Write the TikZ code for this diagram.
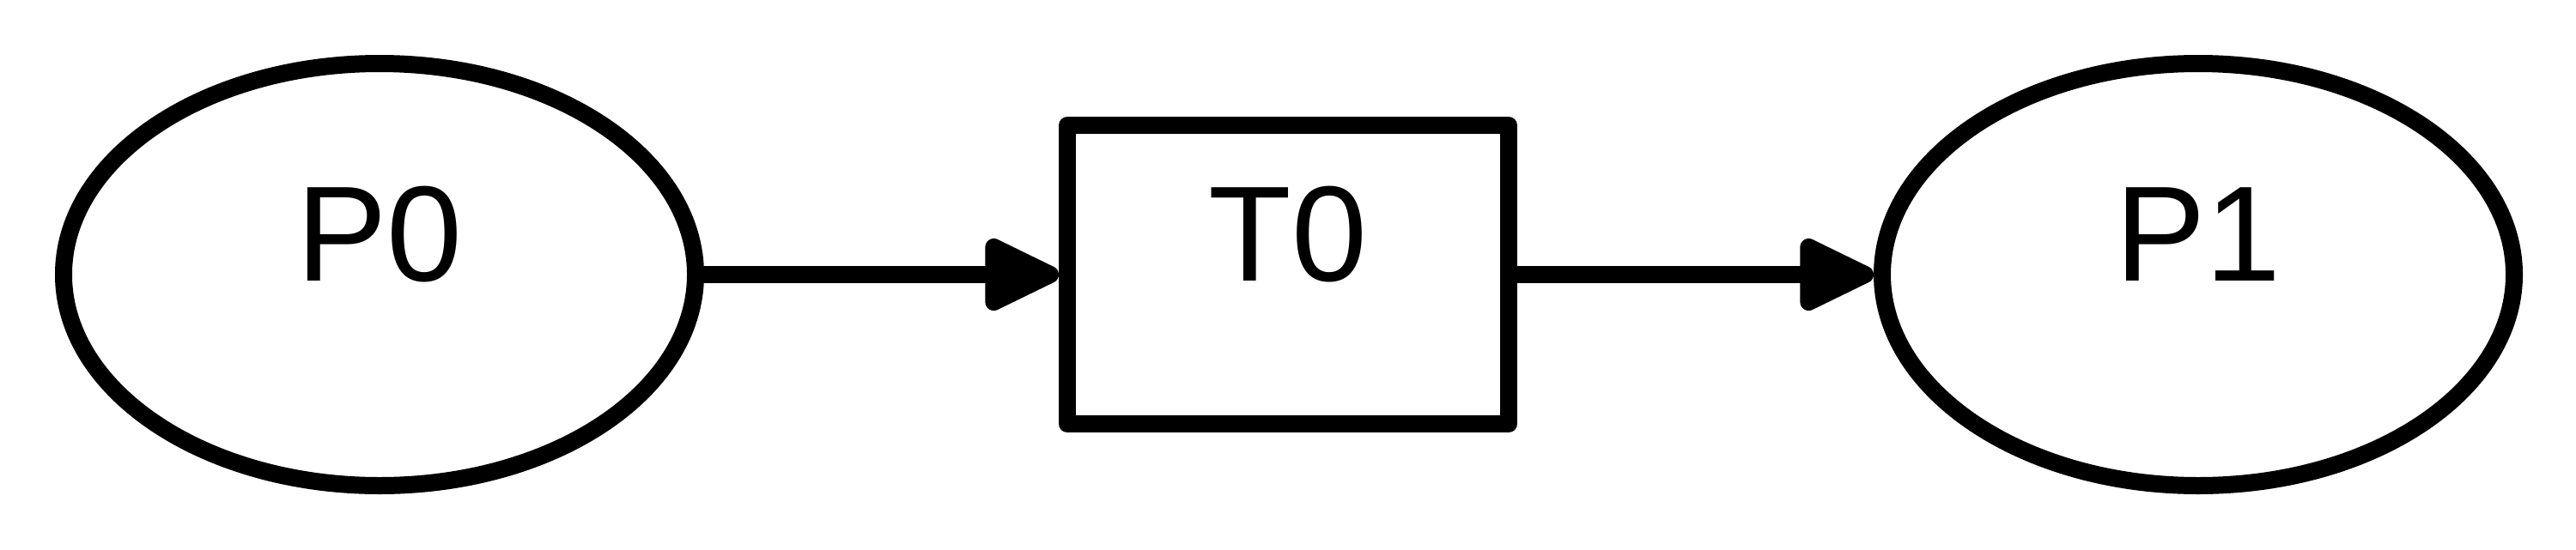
\documentclass[tikz,border=0pt]{standalone}
\usepackage{fontspec}
\setmainfont{Liberation Sans}
\usetikzlibrary{arrows.meta,shapes.geometric}
\definecolor{pnink}{HTML}{000000}
\tikzset{
  pn text/.style={font=\fontsize{45}{54}\selectfont, text=pnink,
    text height=0.75em, text depth=0.3em},
  pn place/.style={ellipse, draw=pnink, line width=0.2cm, fill=white,
    minimum width=7.36cm, minimum height=4.92cm, pn text},
  pn trans/.style={rectangle, draw=pnink, line width=0.2cm, fill=white,
    line join=round, minimum width=5.14cm, minimum height=3.48cm, pn text},
  pn arrow/.style={-{Triangle[length=1.0cm, width=0.9cm, round]},
    line width=0.2cm, draw=pnink}
}
\begin{document}
\begin{tikzpicture}[x=1cm, y=1cm]
  \useasboundingbox (0,0) rectangle (30,6.4);
  \node[pn place] (p0) at (4.42,3.2) {P0};
  \node[pn trans] (t0) at (15.0,3.2) {T0};
  \node[pn place] (p1) at (25.6,3.2) {P1};
  \draw[pn arrow] (p0.east) -- (t0.west);
  \draw[pn arrow] (t0.east) -- (p1.west);
\end{tikzpicture}
\end{document}
